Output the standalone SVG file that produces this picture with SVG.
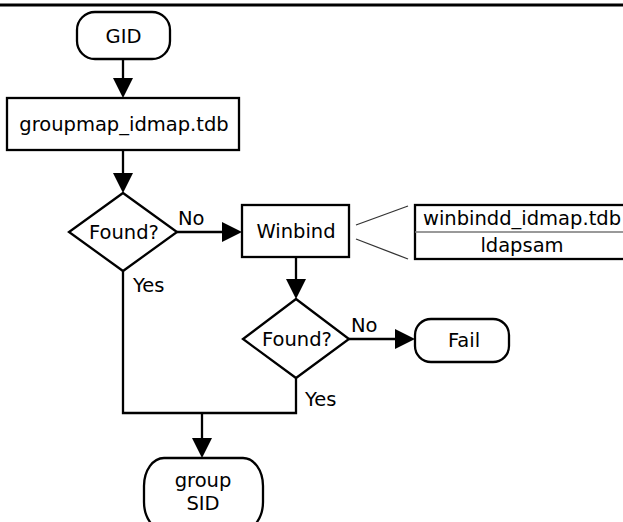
<svg xmlns="http://www.w3.org/2000/svg" width="623" height="522" viewBox="0 0 623 522">
<style>
.s{fill:#fff;stroke:#000;stroke-width:2.3}
.t{font-family:"DejaVu Sans",sans-serif;font-size:19.5px;fill:#000;text-anchor:middle}
.l{font-family:"DejaVu Sans",sans-serif;font-size:19.5px;fill:#000}
.c{fill:none;stroke:#000;stroke-width:2.3}
.a{fill:#000;stroke:none}
.g{stroke:#333;stroke-width:1.3;fill:none}
</style>
<rect x="0" y="0" width="623" height="522" fill="#fff"/>
<line x1="0" y1="5" x2="623" y2="5" stroke="#000" stroke-width="3"/>
<g id="connectors">
<line class="c" x1="123" y1="59" x2="123" y2="80"/>
<polygon class="a" points="113,78 133,78 123,98"/>
<line class="c" x1="123" y1="150" x2="123" y2="175"/>
<polygon class="a" points="113,173 133,173 123,193"/>
<line class="c" x1="177" y1="232" x2="224" y2="232"/>
<polygon class="a" points="222,222 222,242 242,232"/>
<line class="c" x1="296" y1="257" x2="296" y2="281"/>
<polygon class="a" points="286,279 306,279 296,299"/>
<line class="c" x1="349" y1="339" x2="397" y2="339"/>
<polygon class="a" points="395,329 395,349 415,339"/>
<polyline class="c" points="123,271 123,413 296,413 296,378"/>
<line class="c" x1="202" y1="413" x2="202" y2="440"/>
<polygon class="a" points="192,438 212,438 202,458"/>
<line class="g" x1="356" y1="225" x2="408" y2="206"/>
<line class="g" x1="356" y1="239" x2="408" y2="259"/>
<text class="l" x="178" y="225">No</text>
<text class="l" x="133" y="292">Yes</text>
<text class="l" x="351" y="332">No</text>
<text class="l" x="305" y="406">Yes</text>
</g>
<g id="gid">
<rect class="s" x="77" y="12" width="93" height="47" rx="18" ry="18"/>
<text class="t" x="123.5" y="43">GID</text>
</g>
<g id="groupmap">
<rect class="s" x="7" y="98" width="232" height="52"/>
<text class="t" x="124" y="131">groupmap_idmap.tdb</text>
</g>
<g id="found1">
<polygon class="s" points="123,193 177,232 123,271 69,232"/>
<text class="t" x="124" y="239">Found?</text>
</g>
<g id="winbind">
<rect class="s" x="242" y="205" width="107" height="52"/>
<text class="t" x="296" y="238">Winbind</text>
</g>
<g id="backends">
<rect class="s" x="415" y="205" width="214" height="54"/>
<line x1="415" y1="232" x2="629" y2="232" stroke="#777" stroke-width="1.5"/>
<text class="t" x="522" y="225">winbindd_idmap.tdb</text>
<text class="t" x="522" y="252">ldapsam</text>
</g>
<g id="found2">
<polygon class="s" points="296,299 349,339 296,378 243,339"/>
<text class="t" x="297" y="346">Found?</text>
</g>
<g id="fail">
<rect class="s" x="415" y="319" width="94" height="43" rx="16" ry="16"/>
<text class="t" x="464" y="347">Fail</text>
</g>
<g id="groupsid">
<rect class="s" x="144" y="458" width="119" height="72" rx="20" ry="28"/>
<text class="t" x="203" y="487">group</text>
<text class="t" x="203" y="510">SID</text>
</g>
</svg>
